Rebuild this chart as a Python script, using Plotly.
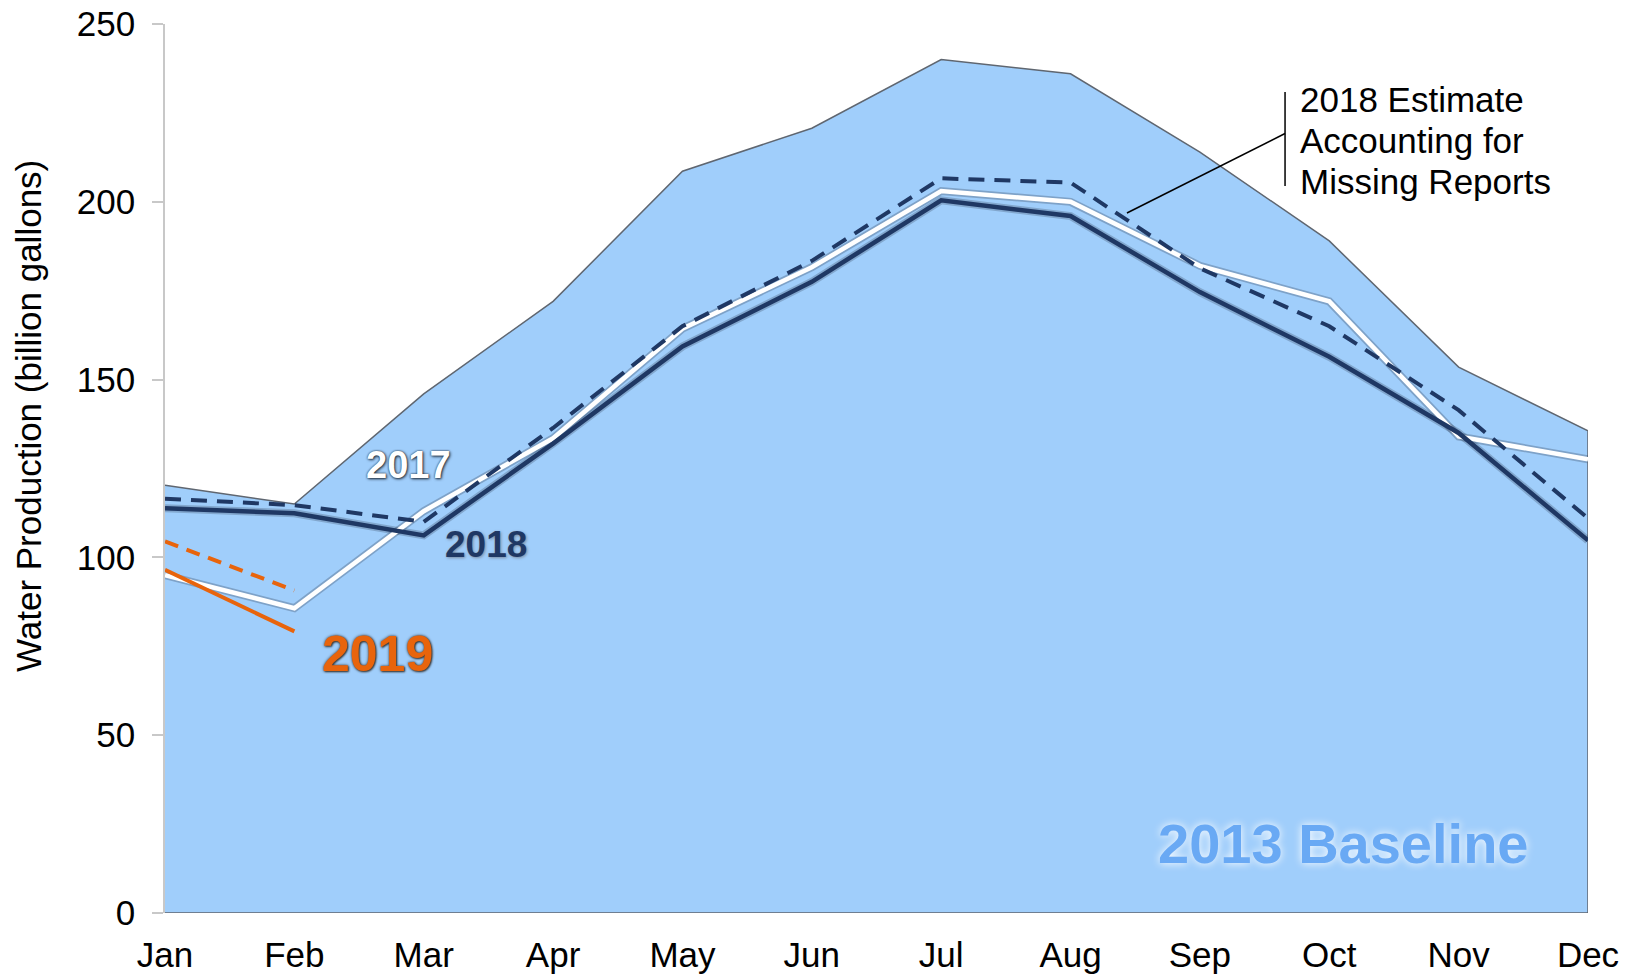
import plotly.graph_objects as go

months = ["Jan", "Feb", "Mar", "Apr", "May", "Jun", "Jul", "Aug", "Sep", "Oct", "Nov", "Dec"]
baseline_2013 = [120.3, 115.0, 146.0, 172.0, 208.6, 220.7, 240.0, 236.0, 214.0, 189.0, 153.5, 135.6]
prod_2017 = [95.0, 85.7, 113.0, 133.5, 164.3, 181.6, 203.0, 200.0, 182.0, 172.0, 134.0, 127.6]
prod_2018 = [113.8, 112.4, 106.2, 132.0, 159.3, 177.5, 200.4, 196.0, 174.6, 156.4, 135.0, 104.8]
est_2018 = [116.5, 114.7, 110.0, 136.4, 165.0, 183.4, 206.6, 205.4, 181.3, 165.0, 141.4, 111.0]
months_2019 = ["Jan", "Feb"]
prod_2019 = [96.5, 79.2]
est_2019 = [104.5, 90.7]
y_ticks = [0, 50, 100, 150, 200, 250]

FONT = "Arial, 'Liberation Sans', sans-serif"
NAVY = "#1f3864"
ORANGE = "#e8640c"
AREA = "#a0cefb"

fig = go.Figure()

# 2013 baseline area (closed polygon down to zero)
fig.add_trace(go.Scatter(
    x=months + [months[-1], months[0]],
    y=baseline_2013 + [0, 0],
    fill="toself", fillcolor=AREA,
    line=dict(color="#5f6670", width=1.5),
    mode="lines", hoverinfo="skip", showlegend=False,
))

# line halos (soft shadow)
fig.add_trace(go.Scatter(x=months, y=prod_2017, mode="lines",
                         line=dict(color="rgba(40,50,70,0.28)", width=8),
                         showlegend=False, hoverinfo="skip"))
fig.add_trace(go.Scatter(x=months, y=prod_2018, mode="lines",
                         line=dict(color="rgba(40,50,70,0.25)", width=8),
                         showlegend=False, hoverinfo="skip"))

fig.add_trace(go.Scatter(x=months, y=prod_2017, mode="lines", name="2017",
                         line=dict(color="white", width=4.5), showlegend=False))
fig.add_trace(go.Scatter(x=months, y=est_2018, mode="lines", name="2018 estimate",
                         line=dict(color=NAVY, width=4, dash="16px,10px"), showlegend=False))
fig.add_trace(go.Scatter(x=months, y=prod_2018, mode="lines", name="2018",
                         line=dict(color=NAVY, width=4.5), showlegend=False))
fig.add_trace(go.Scatter(x=months_2019, y=est_2019, mode="lines", name="2019 estimate",
                         line=dict(color=ORANGE, width=4, dash="14px,9px"), showlegend=False))
fig.add_trace(go.Scatter(x=months_2019, y=prod_2019, mode="lines", name="2019",
                         line=dict(color=ORANGE, width=4), showlegend=False))

annotations = [
    dict(text="2017", x=0.1708, y=0.504, font=dict(size=38, color="white", weight="bold",
         shadow="0px 0px 2px #1f2d3d, 1px 1px 3px #1f2d3d"), showarrow=False),
    dict(text="2018", x=0.2256, y=0.414, font=dict(size=37, color=NAVY, weight="bold",
         shadow="1px 1px 3px #7c8ba0"), showarrow=False),
    dict(text="2019", x=0.1495, y=0.2911, font=dict(size=50, color=ORANGE, weight="bold",
         shadow="0px 0px 3px #3a3a3a, 1px 1px 2px #3a3a3a"), showarrow=False),
    dict(text="2013 Baseline", x=0.8278, y=0.0787, font=dict(size=56, color="#69a9f4", weight="bold",
         shadow="0px 0px 8px #ffffff"), showarrow=False),
    dict(text="2018 Estimate", x=0.7962, y=0.9156, xanchor="left", font=dict(size=35, color="black"),
         showarrow=False),
    dict(text="Accounting for", x=0.7962, y=0.8695, xanchor="left", font=dict(size=35, color="black"),
         showarrow=False),
    dict(text="Missing Reports", x=0.7962, y=0.8228, xanchor="left", font=dict(size=35, color="black"),
         showarrow=False),
    dict(text="Water Production (billion gallons)", x=-0.0963, y=0.559, textangle=-90,
         font=dict(size=35, color="black"), showarrow=False),
]
for a in annotations:
    a.setdefault("xref", "paper")
    a.setdefault("yref", "paper")
    a.setdefault("xanchor", "center")
    a.setdefault("yanchor", "middle")

shapes = [
    dict(type="line", xref="paper", yref="paper", x0=0.7871, x1=0.7871, y0=0.9235, y1=0.8178,
         line=dict(color="black", width=1.5)),
    dict(type="line", xref="paper", yref="paper", x0=0.7871, y0=0.8768, x1=0.676, y1=0.7874,
         line=dict(color="black", width=1.5)),
]

fig.update_layout(
    width=1636, height=974,
    margin=dict(l=157, r=56, t=16, b=69, autoexpand=False),
    paper_bgcolor="white", plot_bgcolor="white",
    font=dict(family=FONT, size=35, color="black"),
    annotations=annotations, shapes=shapes,
    showlegend=False,
)
fig.update_xaxes(type="category", range=[0, 11], showgrid=False, zeroline=False,
                 showline=False, ticks="", tickfont=dict(size=35), ticklabelstandoff=18,
                 automargin=False, ticklabeloverflow="allow")
fig.update_yaxes(range=[0, 250], tickvals=y_ticks, showgrid=False, zeroline=False,
                 showline=True, linecolor="#c8c8c8", linewidth=1.5,
                 ticks="outside", ticklen=11, tickcolor="#c8c8c8", tickwidth=1.5,
                 tickfont=dict(size=35), ticklabelstandoff=10, automargin=False,
                 ticklabeloverflow="allow")

fig.write_html("out.html")
